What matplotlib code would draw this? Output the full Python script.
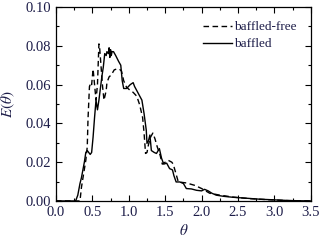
import matplotlib
matplotlib.use("Agg")
import matplotlib.pyplot as plt
from matplotlib.ticker import MultipleLocator

# baffled (solid)
theta_b = [0.0, 0.27, 0.30, 0.33, 0.35, 0.37, 0.39, 0.41, 0.43, 0.45, 0.47, 0.49, 0.51,
           0.53, 0.55, 0.57, 0.59, 0.61, 0.63, 0.65, 0.67, 0.69, 0.70, 0.72, 0.73, 0.74,
           0.75, 0.76, 0.77, 0.79, 0.82, 0.86, 0.89, 0.91, 0.93, 0.97, 1.02, 1.06, 1.08,
           1.13, 1.18, 1.21, 1.24, 1.25, 1.27, 1.29, 1.31, 1.35, 1.38, 1.42, 1.45, 1.48,
           1.52, 1.56, 1.60, 1.62, 1.65, 1.70, 1.75, 1.79, 1.86, 1.93, 2.00, 2.04, 2.09,
           2.14, 2.20, 2.30, 2.43, 2.62, 2.80, 2.98, 3.21, 3.50]
e_b = [0.0, 0.0, 0.003, 0.009, 0.012, 0.016, 0.020, 0.025, 0.026, 0.025, 0.024, 0.025, 0.033,
       0.043, 0.052, 0.047, 0.052, 0.058, 0.064, 0.069, 0.076, 0.075, 0.077, 0.076, 0.079, 0.074,
       0.078, 0.075, 0.077, 0.077, 0.075, 0.072, 0.070, 0.062, 0.058, 0.058, 0.060, 0.061, 0.059,
       0.0555, 0.052, 0.045, 0.0365, 0.0297, 0.031, 0.034, 0.026, 0.025, 0.0245, 0.027, 0.022, 0.019,
       0.0195, 0.0167, 0.016, 0.013, 0.0098, 0.0098, 0.009, 0.0064, 0.0062, 0.0055, 0.0052, 0.006, 0.0052,
       0.004, 0.003, 0.0024, 0.0019, 0.0014, 0.0009, 0.0006, 0.0002, 0.0]

# baffled-free (dashed)
theta_f = [0.0, 0.33, 0.35, 0.38, 0.41, 0.43, 0.44, 0.46, 0.48, 0.49, 0.51, 0.53, 0.55,
           0.57, 0.59, 0.60, 0.62, 0.64, 0.66, 0.69, 0.70, 0.73, 0.76, 0.80, 0.83, 0.87,
           0.90, 0.93, 0.97, 1.02, 1.06, 1.11, 1.15, 1.19, 1.21, 1.23, 1.25, 1.27, 1.30,
           1.33, 1.36, 1.39, 1.43, 1.46, 1.50, 1.54, 1.59, 1.61, 1.68, 1.79, 1.91, 2.00,
           2.11, 2.25, 2.43, 2.66, 2.89, 3.17, 3.50]
e_f = [0.0, 0.0, 0.007, 0.014, 0.021, 0.028, 0.042, 0.059, 0.061, 0.060, 0.068, 0.060, 0.052,
       0.060, 0.081, 0.079, 0.069, 0.059, 0.052, 0.057, 0.061, 0.064, 0.065, 0.0676, 0.068, 0.068,
       0.067, 0.062, 0.0586, 0.057, 0.056, 0.054, 0.0495, 0.043, 0.035, 0.0245, 0.025, 0.029, 0.033,
       0.035, 0.032, 0.028, 0.0236, 0.019, 0.020, 0.021, 0.020, 0.019, 0.0098, 0.0093, 0.008, 0.0064,
       0.004, 0.003, 0.002, 0.0012, 0.0007, 0.0002, 0.0]

txt = '#1c1c48'
plt.rcParams['font.family'] = ['Liberation Serif', 'DejaVu Serif']
plt.rcParams['mathtext.fontset'] = 'stix'

fig = plt.figure(figsize=(3.35, 2.43), dpi=100)
ax = fig.add_axes([0.167, 0.173, 0.761, 0.798])

ax.plot(theta_f, e_f, color='black', lw=1.0, ls=(0, (4, 2.5)), label='baffled-free')
ax.plot(theta_b, e_b, color='black', lw=1.0, label='baffled')

ax.set_xlim(0, 3.5)
ax.set_ylim(0, 0.10)
ax.xaxis.set_major_locator(MultipleLocator(0.5))
ax.xaxis.set_minor_locator(MultipleLocator(0.25))
ax.yaxis.set_major_locator(MultipleLocator(0.02))
ax.yaxis.set_minor_locator(MultipleLocator(0.01))
ax.set_xticklabels([f'{v:.1f}' for v in ax.get_xticks()])
ax.set_yticklabels([f'{v:.2f}' for v in ax.get_yticks()])
ax.tick_params(which='both', direction='in', top=True, right=True, labelsize=10.5,
               labelcolor=txt, width=0.8)
ax.tick_params(which='major', length=4)
ax.tick_params(which='minor', length=2)
for s in ax.spines.values():
    s.set_linewidth(0.9)

ax.set_xlabel(r'$\theta$', fontsize=11, color=txt, labelpad=3)
ax.set_ylabel(r'$E(\theta)$', fontsize=11, color=txt, labelpad=6)

leg = ax.legend(loc='upper left', bbox_to_anchor=(0.555, 0.955), frameon=False,
                fontsize=9.5, handlelength=2.2, handletextpad=0.2, labelspacing=0.35,
                borderaxespad=0)
for t in leg.get_texts():
    t.set_color(txt)

fig.savefig('out.png', dpi=100)
